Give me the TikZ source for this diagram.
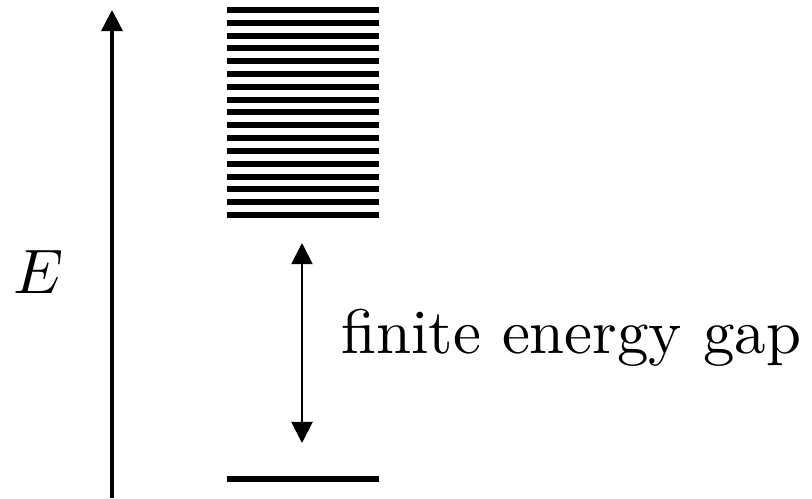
\documentclass[tikz,border=0pt]{standalone}
\usepackage{amsmath, amssymb}
\usepackage{tikz}
\usetikzlibrary{arrows.meta}

\begin{document}
\begin{tikzpicture}[x=0.02cm, y=-0.02cm]
        % Rėmas
        \useasboundingbox (0, 0) rectangle (812, 498);

        % Taškai
        \coordinate (E0) at (112, 498);
        \coordinate (E1) at (112, 10);
        \coordinate (G0) at (302, 443);
        \coordinate (G1) at (302, 243);

        % Energijos ašis
        \draw[line width=2pt, -{Triangle[length=12pt, width=12pt]}] (E0) -- (E1);
        \node[anchor=base, scale=3.58] (elabel) at (39, 293) {$E$};

        % Sužadinti lygmenys
        \foreach \i in {0,...,16}
            \draw[line width=3.4pt] (227, 10 + 12.81*\i) -- (379, 10 + 12.81*\i);

        % Pagrindinis lygmuo
        \draw[line width=3.4pt] (227, 479) -- (379, 479);

        % Tarpas
        \draw[line width=1.1pt, {Triangle[length=12pt, width=12pt]}-{Triangle[length=12pt, width=12pt]}] (G0) -- (G1);
        \node[anchor=base west, inner sep=0pt, scale=3.58] (gaplabel) at (340, 353) {finite energy gap};
    \end{tikzpicture}
\end{document}
